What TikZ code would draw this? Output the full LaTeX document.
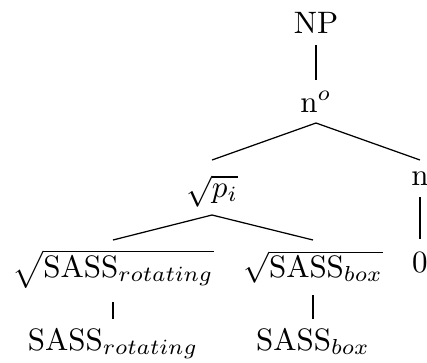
\documentclass[tikz,border=0pt]{standalone}
\usetikzlibrary{calc}
\begin{document}
\begin{tikzpicture}[x=0.3226pt,y=-0.3226pt,
  lbl/.style={anchor=base,inner sep=0pt},
  edge/.style={draw=black,line width=0.4pt}]
\useasboundingbox (0,0) rectangle (427,363);
\node[lbl] (np) at (316,33) {NP};
\node[lbl] (no) at (316,112) {n$^o$};
\node[lbl] (pi) at (212,197) {$\sqrt{p_i}$};
\node[lbl] (n) at (420,185) {n};
\node[lbl] (zero) at (420,272) {0};
\node[lbl] (rrot) at (113,277) {$\sqrt{\mathrm{SASS}_{rotating}}$};
\node[lbl] (rbox) at (313,277) {$\sqrt{\mathrm{SASS}_{box}}$};
\node[lbl] (srot) at (113,350) {SASS$_{rotating}$};
\node[lbl] (sbox) at (313,350) {SASS$_{box}$};
\draw[edge] ($(np.base)+(0,12)$) -- ($(no.base)+(0,-32)$);
\draw[edge] ($(pi.base)+(0,-37)$) -- ($(no.base)+(0,11)$) -- ($(n.base)+(0,-25)$);
\draw[edge] ($(rrot.base)+(0,-37)$) -- ($(pi.base)+(0,18)$) -- ($(rbox.base)+(0,-37)$);
\draw[edge] ($(n.base)+(0,12)$) -- ($(zero.base)+(0,-33)$);
\draw[edge] ($(rrot.base)+(0,25)$) -- ($(srot.base)+(0,-31)$);
\draw[edge] ($(rbox.base)+(0,18)$) -- ($(sbox.base)+(0,-31)$);
\end{tikzpicture}
\end{document}
